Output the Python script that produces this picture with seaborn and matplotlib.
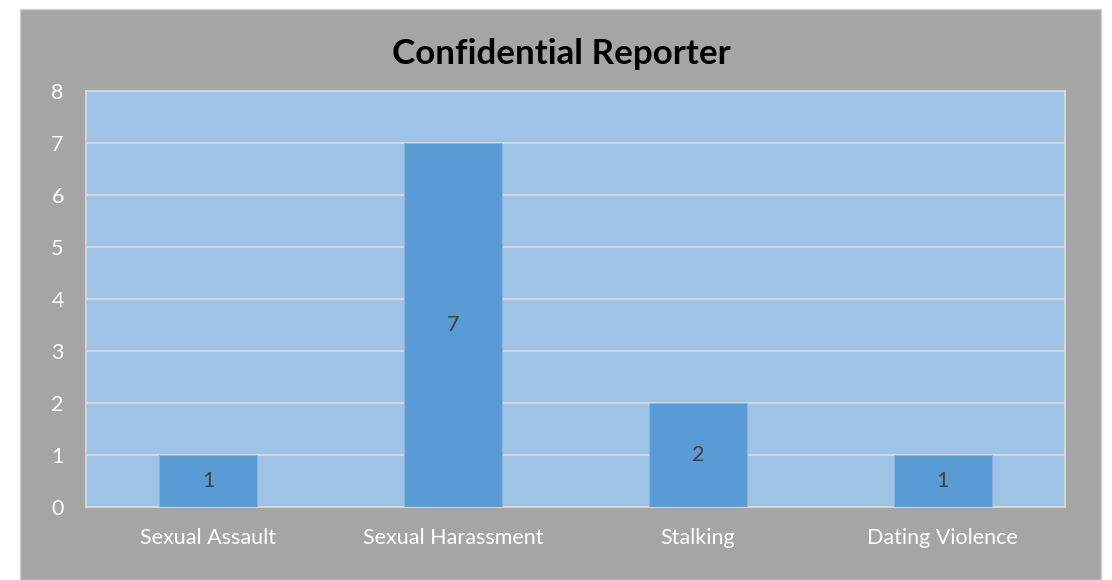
import numpy as np
import pandas as pd
import matplotlib.pyplot as plt
import seaborn as sns
from matplotlib.patches import Rectangle

categories = ["Sexual Assault", "Sexual Harassment", "Stalking", "Dating Violence"]
counts = [1, 7, 2, 1]
yticks = [0, 1, 2, 3, 4, 5, 6, 7, 8]

sns.set_style("white")
plt.rcParams['font.family'] = ['Lato', 'DejaVu Sans']

df = pd.DataFrame({"category": categories, "count": counts})

fig = plt.figure(figsize=(11.12, 5.8), dpi=100)
fig.patch.set_facecolor("white")
# grey chart panel, kept behind the axes
fig.patches.append(Rectangle((20 / 1112, 0), 1081 / 1112, 571 / 580,
                             transform=fig.transFigure, facecolor="#a5a5a5",
                             edgecolor="#d0d0d0", lw=1, zorder=-5))

ax = fig.add_axes([86 / 1112, 1 - 507 / 580, 979 / 1112, 416 / 580])
ax.set_zorder(2)
ax.set_facecolor("#9dc3e6")

sns.barplot(data=df, x="category", y="count", color="#5b9bd5", width=0.4,
            saturation=1, edgecolor="#8fb6df", linewidth=0.6, ax=ax, zorder=3)

ax.set_xlim(-0.5, 3.5)
ax.set_ylim(0, 8)
ax.set_yticks(yticks)
ax.grid(axis="y", color="#d9d9d9", lw=1.3, zorder=1)
ax.set_axisbelow(True)
for s in ax.spines.values():
    s.set_color("#d9d9d9")
    s.set_linewidth(1.3)

ax.tick_params(axis="both", length=0, colors="white", labelsize=15.5)
ax.tick_params(axis="y", pad=16)
ax.tick_params(axis="x", pad=15)
ax.set_xlabel("")
ax.set_ylabel("")

for i, v in enumerate(counts):
    ax.text(i, v / 2, str(v), ha="center", va="center", color="#404040",
            fontsize=15.5, zorder=5)

fig.text(561 / 1112, 1 - 54 / 580, "Confidential Reporter", ha="center",
         va="center", fontsize=25.2, fontweight="bold", color="black", zorder=5)

fig.savefig("out.png", dpi=100)
